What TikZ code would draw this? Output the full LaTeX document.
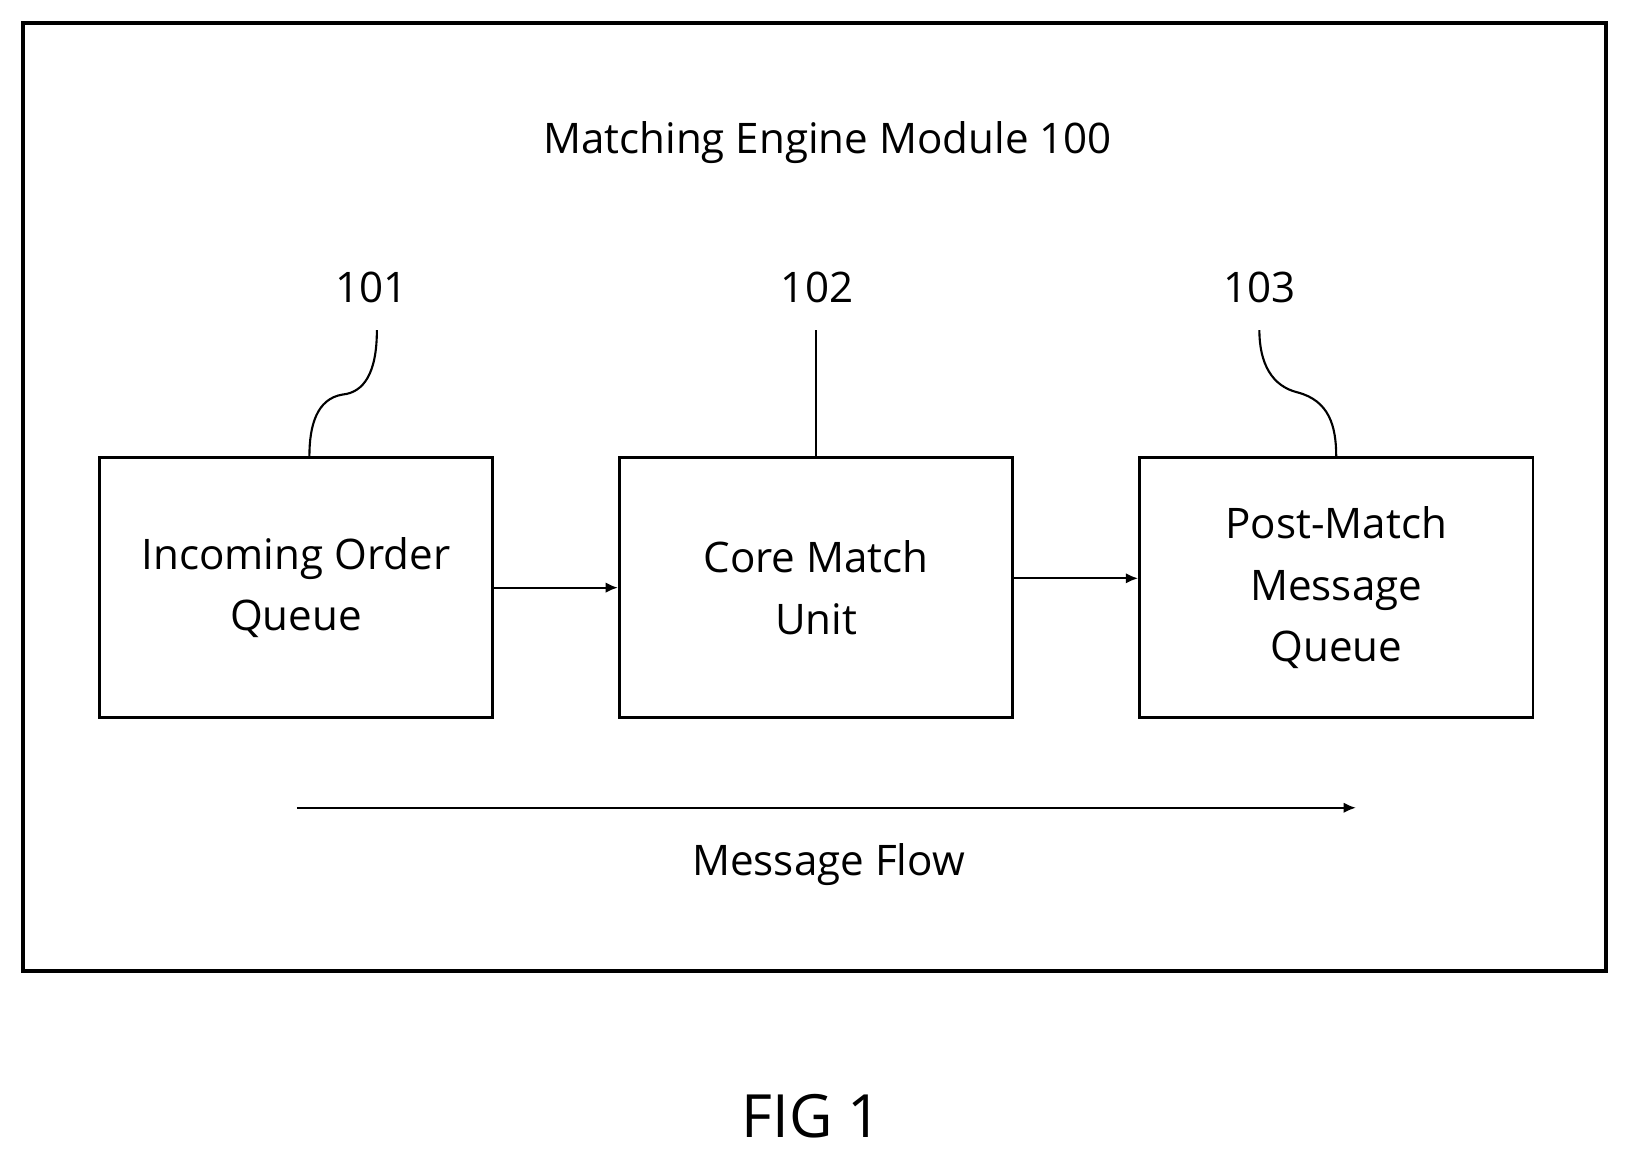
\documentclass[tikz,border=0pt]{standalone}
\usepackage{fontspec}
\setmainfont{Open Sans}
\usetikzlibrary{arrows.meta}
\begin{document}
\begin{tikzpicture}[x=0.0208cm,y=-0.0208cm]

\tikzstyle{block}=[draw,line width=1.6pt,minimum width=379*0.0208cm,minimum height=250*0.0208cm,align=center,font=\fontsize{24}{35}\selectfont]
\tikzstyle{flow}=[-{Latex[length=7pt,width=6pt]},line width=1.2pt]
\tikzstyle{lbl}=[font=\fontsize{24}{28}\selectfont]

\def\cy{566}    % centre line of the blocks

% Page and outer frame
\useasboundingbox (0,0) rectangle (1569,1118);
\draw [line width=2pt] (22,22) rectangle (1547,935);

\node [lbl] (title) at (797,137) {Matching Engine Module 100};

% The three blocks
\node [block] (inq)  at (285,\cy) {Incoming Order\\Queue};
\node [block] (core) at (786,\cy) {Core Match\\Unit};
\node [block] (post) at (1287,\cy) {Post-Match\\Message\\Queue};

% Reference numerals and leaders
\node [lbl] (n101) at (358,277) {101};
\node [lbl] (n102) at (787,277) {102};
\node [lbl] (n103) at (1213,277) {103};

\coordinate (l101) at (363,318);
\coordinate (l102) at (786,318);
\coordinate (l103) at (1213,318);

\draw [line width=1.2pt] (l101) .. controls (363,360) and (350,378) .. (330,380)
      .. controls (305,384) and (298,410) .. (inq.north -| 298,0);
\draw [line width=1.2pt] (l102) -- (core.north);
\draw [line width=1.2pt] (l103) .. controls (1213,350) and (1225,372) .. (1250,378)
      .. controls (1280,386) and (1287,410) .. (post.north);

% Connectors between blocks
\draw [flow] (inq.east) -- (core.west);
\draw [flow] ([yshift=9*0.0208cm]core.east) -- ([yshift=9*0.0208cm]post.west);

% Overall direction
\coordinate (fa) at (286,778);
\coordinate (fb) at (1306,778);
\draw [flow] (fa) -- (fb);
\node [lbl] (flowlbl) at (798,833) {Message Flow};

\node [font=\fontsize{34}{40}\selectfont] (fig) at (782,1075) {FIG 1};

\end{tikzpicture}
\end{document}
